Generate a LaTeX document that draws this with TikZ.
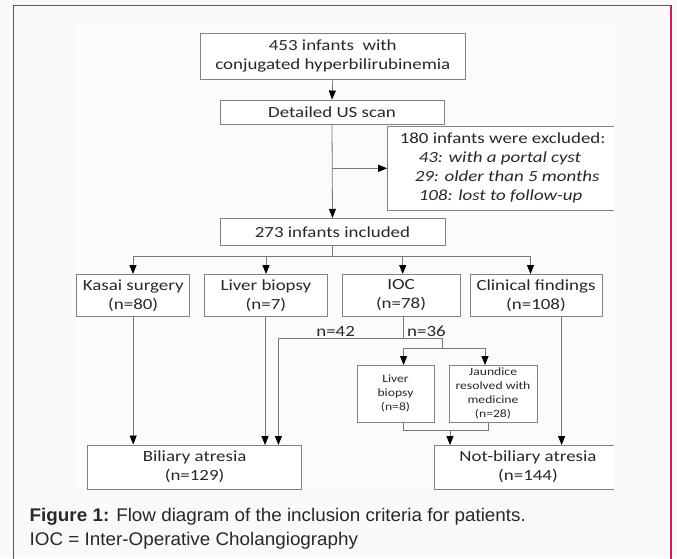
\documentclass[tikz,border=0pt]{standalone}
\usepackage{fontspec}
\setmainfont{Carlito}[FakeStretch=1.22]
\newfontfamily\capfont{Liberation Sans}[FakeStretch=1.03]
\usetikzlibrary{arrows.meta}
\definecolor{frameRed}{RGB}{200,35,80}
\definecolor{pageBg}{RGB}{252,249,250}
\definecolor{diagBg}{RGB}{251,251,251}
\definecolor{boxLine}{RGB}{130,130,130}
\definecolor{conLine}{RGB}{120,120,120}
\definecolor{txt}{RGB}{40,40,40}
\tikzset{
  x=1pt,y=-1pt,
  fbox/.style={draw=boxLine,line width=0.9pt,fill=white,inner sep=0pt,align=center,text=txt,font=\fontsize{15.5}{19}\selectfont},
  sbox/.style={draw=boxLine,line width=0.9pt,fill=white,inner sep=0pt,align=center,text=txt,font=\fontsize{11.2}{14}\selectfont},
  con/.style={draw=conLine,line width=0.8pt},
  arr/.style={con,-{Triangle[width=7pt,length=9pt,color=black]}},
  lab/.style={font=\fontsize{15.5}{18}\selectfont,inner sep=0pt,text=txt}
}
\begin{document}
\begin{tikzpicture}
\useasboundingbox (0,0) rectangle (677,558);
\fill[pageBg] (0,0) rectangle (677,558);
\draw[frameRed,line width=1.3pt] (13.4,562) -- (13.4,5.7) -- (671,5.7) -- (671,562);
\fill[diagBg] (75.8,21.7) rectangle (613.8,490);
\begin{scope}
\clip (75.8,21.7) rectangle (613.8,491);
\node[fbox,minimum width=265.6pt,minimum height=46pt] (b1) at (332.8,56) {453 infants\ \ with\\conjugated hyperbilirubinemia};
\node[fbox,minimum width=224pt,minimum height=24pt] (b2) at (332,112) {Detailed US scan};
\node[fbox,minimum width=230pt,minimum height=83.3pt,align=left] (ex) at (502.6,168.3) {180 infants were excluded:\\
\hspace*{19pt}\textit{43: with a portal cyst}\\
\hspace*{15pt}\textit{29: older than 5 months}\\
\hspace*{19pt}\textit{108: lost to follow-up}};
\node[fbox,minimum width=225pt,minimum height=26.7pt] (b3) at (332.5,231.7) {273 infants included};
\node[fbox,minimum width=113pt,minimum height=42.7pt] (ks) at (133.2,295.3) {Kasai surgery\\(n=80)};
\node[fbox,minimum width=122.2pt,minimum height=42.7pt] (lb) at (265.9,295.3) {Liver biopsy\\(n=7)};
\node[fbox,minimum width=118pt,minimum height=42.7pt] (ioc) at (401,295.3) {IOC\\(n=78)};
\node[fbox,minimum width=132pt,minimum height=42.7pt] (cf) at (536,295.3) {Clinical findings\\(n=108)};
\node[sbox,minimum width=77pt,minimum height=57.3pt] (slb) at (395.5,393.7) {Liver\\biopsy\\(n=8)};
\node[sbox,minimum width=88pt,minimum height=57.3pt] (jr) at (493,393.7) {Jaundice\\resolved with\\medicine\\(n=28)};
\node[fbox,minimum width=214.3pt,minimum height=44.3pt] (ba) at (194.6,467.1) {Biliary atresia\\(n=129)};
\node[fbox,minimum width=188pt,minimum height=44.3pt] (nba) at (528,467.1) {Not-biliary atresia\\(n=144)};
% connectors
\draw[arr] (b1.south) -- (b2.north);
\draw[arr] (b2.south) -- (b3.north);
\coordinate (exj) at (b2.south |- ex.west);
\draw[arr] (exj) -- (ex.west);
\coordinate (br) at (332.5,256.7);
\draw[con] (b3.south) -- (br);
\draw[con] (133,256.7) -- (530.5,256.7);
\draw[arr] (133,256.7) -- (133,274);
\draw[arr] (266,256.7) -- (266,274);
\draw[arr] (402.7,256.7) -- (402.7,274);
\draw[arr] (530.5,256.7) -- (530.5,274);
\draw[arr] (ks.south) -- (ks.south |- ba.north);
\draw[arr] (265,316.7) -- (265,445);
\draw[con] (403.6,316.7) -- (403.6,338.3);
\draw[arr] (442.5,338.3) -- (278.4,338.3) -- (278.4,445);
\draw[con] (442.5,338.3) -- (442.5,348.3);
\draw[arr] (442.5,348.3) -- (403.6,348.3) -- (403.6,365);
\draw[arr] (442.5,348.3) -- (485,348.3) -- (485,365);
\draw[con] (403.6,422.3) -- (403.6,430.7) -- (488,430.7) -- (488,422.3);
\draw[arr] (450,430.7) -- (450,445);
\draw[arr] (561.6,316.7) -- (561.6,445);
\node[lab,anchor=base] (n42) at (335.6,336) {n=42};
\node[lab,anchor=base] (n36) at (426.5,336) {n=36};
\end{scope}
\node[anchor=base west,inner sep=0pt,text=txt,font=\capfont\fontsize{18.3}{22}\selectfont] (cap1) at (29.5,521) {\textbf{Figure 1:} Flow diagram of the inclusion criteria for patients.};
\node[anchor=base west,inner sep=0pt,text=txt,font=\capfont\fontsize{18.3}{22}\selectfont] (cap2) at (29.5,545) {IOC = Inter-Operative Cholangiography};
\end{tikzpicture}
\end{document}
